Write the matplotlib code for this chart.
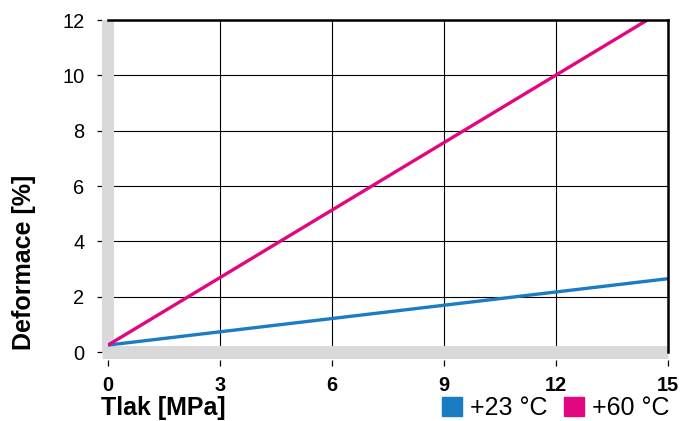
import matplotlib
matplotlib.use('Agg')
import matplotlib.pyplot as plt
import matplotlib.patches as mpatches

plt.rcParams['font.family'] = ['Liberation Sans', 'DejaVu Sans']

# pressure [MPa] vs. deformation [%] for two temperatures
tlak = [0, 15]
deform_23 = [0.25, 2.65]
deform_60 = [0.25, 12.45]
x_ticks = [0, 3, 6, 9, 12, 15]
y_ticks = [0, 2, 4, 6, 8, 10, 12]

BLUE = '#1a7dc4'
PINK = '#e2077e'
GRAY = '#d9d9db'

fig = plt.figure(figsize=(6.82, 4.21), dpi=100)
ax = fig.add_axes([108 / 682, 1 - 352 / 421, 560 / 682, 332 / 421])

ax.set_xlim(0, 15)
ax.set_ylim(0, 12)
ax.set_xticks(x_ticks)
ax.set_yticks(y_ticks)

ax.grid(True, color='black', linewidth=0.8, zorder=1)

# thick gray base lines along both axes
ax.axhline(0, xmin=-6 / 560, xmax=1, color=GRAY, linewidth=9.4,
           solid_capstyle='butt', clip_on=False, zorder=2)
ax.axvline(0, ymin=0, ymax=1, color=GRAY, linewidth=8.6,
           solid_capstyle='butt', clip_on=False, zorder=2)

ax.plot(tlak, deform_23, color=BLUE, linewidth=2.4, zorder=3,
        solid_capstyle='butt')
ax.plot(tlak, deform_60, color=PINK, linewidth=2.4, zorder=3,
        solid_capstyle='butt')

for side in ('top', 'right'):
    ax.spines[side].set_linewidth(1.8)
    ax.spines[side].set_color('black')
    ax.spines[side].set_zorder(4)
ax.spines['left'].set_position(('outward', 4.3))
ax.spines['bottom'].set_position(('outward', 5.8))
ax.spines['left'].set_visible(False)
ax.spines['bottom'].set_visible(False)

ax.tick_params(axis='y', direction='out', length=3.6, width=0.9, pad=9,
               labelsize=14.4)
ax.tick_params(axis='x', direction='out', length=4.3, width=0.9, pad=7,
               labelsize=14.4)
for lbl in ax.get_xticklabels():
    lbl.set_fontweight('bold')

fig.text(24 / 682, 1 - 262 / 421, 'Deformace [%]', rotation=90,
         ha='center', va='center', fontsize=18, fontweight='bold')
fig.text(101 / 682, 1 - 415 / 421, 'Tlak [MPa]', ha='left',
         va='baseline', fontsize=18, fontweight='bold')

handles = [mpatches.Patch(color=BLUE, label='+23 °C'),
           mpatches.Patch(color=PINK, label='+60 °C')]
fig.legend(handles=handles, loc='lower right',
           bbox_to_anchor=(669 / 682, 1 / 421),
           ncol=2, frameon=False, fontsize=18, handlelength=0.8,
           handleheight=0.8, handletextpad=0.32, columnspacing=0.64,
           borderpad=0.0, borderaxespad=0.0)

fig.savefig('out.png', dpi=100)
